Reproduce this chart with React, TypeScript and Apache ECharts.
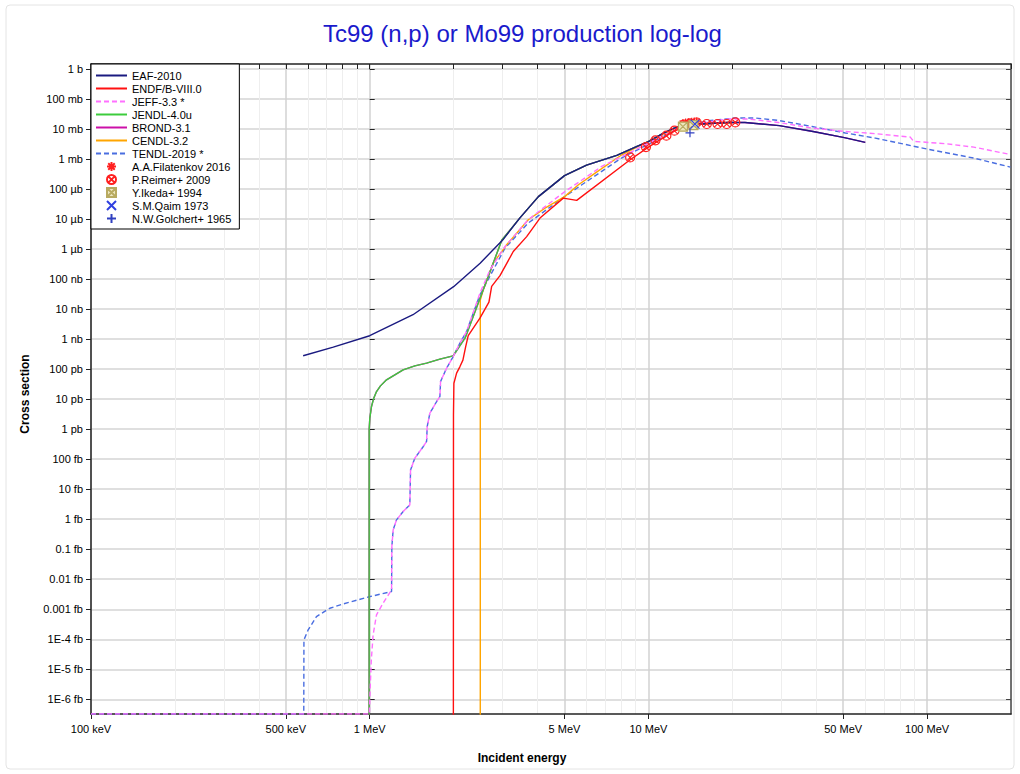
import React, { useEffect, useRef } from 'react';
import * as echarts from 'echarts';

const chartTitle = 'Tc99 (n,p) or Mo99 production log-log';
const xName = 'Incident energy';
const yName = 'Cross section';

// axis ranges: energy in MeV, cross section exponent (log10 of barns)
const xMinMeV = 0.1;
const xMaxMeV = 200;
const yMinExp = -21.49;
const yMaxExp = 0.167;

const xTickMeV = [0.1, 0.5, 1, 5, 10, 50, 100];
const xTickLabels = ['100 keV', '500 keV', '1 MeV', '5 MeV', '10 MeV', '50 MeV', '100 MeV'];
const xMinorDecades = [0.1, 1, 10, 100];
const xMinorSteps = [1, 2, 3, 4, 5, 6, 7, 8, 9];

const yTickExps = [0, -1, -2, -3, -4, -5, -6, -7, -8, -9, -10, -11, -12, -13, -14, -15, -16, -17, -18, -19, -20, -21];
const yTickLabels = ['1 b', '100 mb', '10 mb', '1 mb', '100 µb', '10 µb', '1 µb', '100 nb', '10 nb', '1 nb', '100 pb', '10 pb', '1 pb', '100 fb', '10 fb', '1 fb', '0.1 fb', '0.01 fb', '0.001 fb', '1E-4 fb', '1E-5 fb', '1E-6 fb'];

// zero cross section (below threshold) and bottom-of-frame value
const FLOOR = 1e-30;
const BOTTOM = Math.pow(10, yMinExp);

// ---- evaluated data (E in MeV, cross section in barns) ----
const eafE = [0.577, 0.74, 1.0, 1.43, 2.0, 2.49, 3.0, 3.46, 4.03, 5.0, 6.0, 7.7, 9.1, 10, 11.2, 12.3, 13.2, 15.3, 19.4, 22.2, 29.5, 39, 50.5, 60];
const eafS = [2.8e-10, 5.4e-10, 1.3e-9, 6.5e-9, 5.6e-8, 3.4e-7, 2.0e-6, 1.1e-5, 5.6e-5, 2.8e-4, 6.3e-4, 1.32e-3, 2.63e-3, 3.8e-3, 6.9e-3, 1.05e-2, 1.29e-2, 1.48e-2, 1.66e-2, 1.66e-2, 1.3e-2, 8.3e-3, 5.2e-3, 3.6e-3];

const endfE = [1.995, 1.998, 2.005, 2.05, 2.108, 2.16, 2.21, 2.257, 2.486, 2.678, 2.739, 2.934, 3.274, 3.658, 4.083, 4.95, 5.53, 8.6, 10.0, 12.3, 13.7, 15.3, 20.0];
const endfS = [FLOOR, 3e-12, 3.4e-11, 7.4e-11, 1.22e-10, 2.0e-10, 5.6e-10, 1.3e-9, 5.0e-9, 1.7e-8, 5.7e-8, 1.3e-7, 8.3e-7, 2.6e-6, 1.08e-5, 5.0e-5, 4.2e-5, 9.5e-4, 2.5e-3, 8.3e-3, 1.22e-2, 1.47e-2, 1.7e-2];

const jeffE = [0.1, 0.9975, 1.0033, 1.0133, 1.0285, 1.0578, 1.117, 1.198, 1.2007, 1.2137, 1.248, 1.318, 1.393, 1.4014, 1.452, 1.555, 1.6, 1.608, 1.644, 1.738, 1.786, 1.796, 1.888, 1.993, 2.107, 2.227, 2.486, 2.7, 3.058, 3.707, 4.256, 5.02, 5.77, 6.8, 8.03, 9.47, 11.17, 13.18, 16.9, 19.4, 22.9, 29.3, 38.6, 50.9, 65.2, 87, 89.5, 118, 147, 199];
const jeffS = [BOTTOM, BOTTOM, 2.0e-21, 2.0e-20, 1.4e-19, 6.5e-19, 1.6e-18, 4.4e-18, 1.2e-16, 4.4e-16, 9.5e-16, 1.8e-15, 3.0e-15, 4.4e-14, 1.08e-13, 2.6e-13, 3.9e-13, 1.22e-12, 3.4e-12, 8.3e-12, 1.22e-11, 3.9e-11, 1.08e-10, 2.6e-10, 7.4e-10, 1.8e-9, 3.4e-8, 2.0e-7, 1.22e-6, 9.5e-6, 2.6e-5, 8.3e-5, 2.0e-4, 5.7e-4, 1.22e-3, 2.6e-3, 5.7e-3, 1.22e-2, 1.79e-2, 2.15e-2, 2.15e-2, 1.66e-2, 1.08e-2, 8.3e-3, 7.0e-3, 5.4e-3, 3.9e-3, 3.2e-3, 2.5e-3, 1.42e-3];

const jendlE = [0.995, 0.9955, 1.001, 1.015, 1.034, 1.058, 1.093, 1.149, 1.214, 1.318, 1.452, 1.6, 1.786, 1.993, 2.2, 2.98, 3.46, 4.03, 5.0, 6.0, 7.7, 9.1, 10, 11.2, 12.3, 13.2, 15.3, 19.4, 20];
const jendlS = [FLOOR, 9.5e-13, 2.33e-12, 5.7e-12, 1.08e-11, 1.79e-11, 2.77e-11, 4.4e-11, 6.0e-11, 9.5e-11, 1.29e-10, 1.58e-10, 2.15e-10, 2.77e-10, 1.1e-9, 2.0e-6, 1.1e-5, 5.6e-5, 2.8e-4, 6.3e-4, 1.32e-3, 2.63e-3, 3.8e-3, 6.9e-3, 1.05e-2, 1.29e-2, 1.48e-2, 1.66e-2, 1.66e-2];

const brondE = [0.995, 0.9955, 1.001, 1.015, 1.034, 1.058, 1.093, 1.149, 1.214, 1.318, 1.452, 1.6, 1.786, 1.993, 2.2, 2.98, 3.46, 4.03, 5.0, 6.0, 7.7, 9.1, 10, 11.2, 12.3, 13.2, 15.3, 19.4, 22.2, 29.5, 39, 50.5, 60];
const brondS = [FLOOR, 9.5e-13, 2.33e-12, 5.7e-12, 1.08e-11, 1.79e-11, 2.77e-11, 4.4e-11, 6.0e-11, 9.5e-11, 1.29e-10, 1.58e-10, 2.15e-10, 2.77e-10, 1.1e-9, 2.0e-6, 1.1e-5, 5.6e-5, 2.8e-4, 6.3e-4, 1.32e-3, 2.63e-3, 3.8e-3, 6.9e-3, 1.05e-2, 1.29e-2, 1.48e-2, 1.66e-2, 1.66e-2, 1.3e-2, 8.3e-3, 5.2e-3, 3.6e-3];

const cendlE = [2.493, 2.4935, 2.555, 2.775, 3.1, 3.707, 4.256, 5.02, 5.61, 6.44, 8.03, 9.47, 11.17, 13.18, 16.7, 20];
const cendlS = [FLOOR, 2.0e-8, 4.4e-8, 3.4e-7, 1.39e-6, 9.5e-6, 2.33e-5, 5.7e-5, 1.39e-4, 3.4e-4, 1.39e-3, 3.0e-3, 6.5e-3, 1.22e-2, 1.62e-2, 1.58e-2];

const tendlE = [0.1, 0.58, 0.5808, 0.6006, 0.644, 0.719, 0.8026, 0.995, 1.198, 1.2007, 1.2137, 1.248, 1.318, 1.393, 1.4014, 1.452, 1.555, 1.6, 1.608, 1.644, 1.738, 1.786, 1.796, 1.888, 1.993, 2.107, 2.227, 2.486, 3.058, 3.707, 5.02, 5.77, 6.8, 8.03, 9.47, 11.17, 13.18, 16.4, 20.5, 24.2, 29.3, 38.6, 50.9, 65.2, 100, 147, 199];
const tendlS = [BOTTOM, BOTTOM, 9.5e-20, 2.0e-19, 5.7e-19, 1.08e-18, 1.5e-18, 2.6e-18, 3.9e-18, 1.2e-16, 4.4e-16, 9.5e-16, 1.8e-15, 3.0e-15, 4.4e-14, 1.08e-13, 2.6e-13, 3.9e-13, 1.22e-12, 3.4e-12, 8.3e-12, 1.22e-11, 3.9e-11, 1.08e-10, 2.6e-10, 7.4e-10, 1.8e-9, 3.0e-8, 1.08e-6, 7.4e-6, 5.7e-5, 1.39e-4, 3.9e-4, 1.1e-3, 2.4e-3, 5.3e-3, 1.19e-2, 1.89e-2, 2.33e-2, 2.33e-2, 1.94e-2, 1.22e-2, 7.4e-3, 5.0e-3, 2.15e-3, 1.08e-3, 5.4e-4];

// ---- experimental data (E in MeV, cross section in barns) ----
const filatenkovE = [13.3, 13.6, 13.9, 14.3, 14.6, 14.9];
const filatenkovS = [0.0150, 0.0158, 0.0162, 0.0168, 0.0170, 0.0172];
const reimerE = [8.6, 9.8, 10.6, 11.6, 12.4, 13.4, 14.1, 14.9, 16.2, 17.7, 19.1, 20.5];
const reimerS = [1.13e-3, 2.5e-3, 4.2e-3, 6.0e-3, 8.8e-3, 1.4e-2, 1.55e-2, 1.65e-2, 1.47e-2, 1.47e-2, 1.47e-2, 1.66e-2];
const ikedaE = [13.3, 14.5];
const ikedaS = [0.012, 0.0136];
const qaimE = [14.7];
const qaimS = [0.0145];
const golchertE = [14.1];
const golchertS = [0.0075];

const fontFamily = '"Liberation Sans", Arial, Helvetica, sans-serif';
const lg = (v: number) => Math.log10(v);
const pairs = (es: number[], ss: number[]) => es.map((e, i) => [lg(e), lg(ss[i])]);

const lineSeriesDefs = [
  { name: 'EAF-2010', e: eafE, s: eafS, color: '#1a1a80', dash: 'solid' },
  { name: 'ENDF/B-VIII.0', e: endfE, s: endfS, color: '#ff1010', dash: 'solid' },
  { name: 'JEFF-3.3 *', e: jeffE, s: jeffS, color: '#ff70ff', dash: 'dashed' },
  { name: 'JENDL-4.0u', e: jendlE, s: jendlS, color: '#3ccc3c', dash: 'solid' },
  { name: 'BROND-3.1', e: brondE, s: brondS, color: '#cc10a8', dash: 'solid' },
  { name: 'CENDL-3.2', e: cendlE, s: cendlS, color: '#ffa500', dash: 'solid' },
  { name: 'TENDL-2019 *', e: tendlE, s: tendlS, color: '#4a6ee0', dash: 'dashed' },
];

const starPath = 'path://M0,-5L0,5M-5,0L5,0M-3.6,-3.6L3.6,3.6M-3.6,3.6L3.6,-3.6';
const circleXPath = 'path://M5,0A5,5 0 1 1 -5,0A5,5 0 1 1 5,0ZM-3.5,-3.5L3.5,3.5M-3.5,3.5L3.5,-3.5';
const boxXPath = 'path://M-5,-5L5,-5L5,5L-5,5ZM-5,-5L5,5M-5,5L5,-5';
const crossPath = 'path://M-5,-5L5,5M-5,5L5,-5';
const plusPath = 'path://M0,-5L0,5M-5,0L5,0';

const scatterDefs = [
  { name: 'A.A.Filatenkov 2016', e: filatenkovE, s: filatenkovS, symbol: starPath, fill: 'rgba(0,0,0,0)', stroke: '#ff2020' },
  { name: 'P.Reimer+ 2009', e: reimerE, s: reimerS, symbol: circleXPath, fill: 'rgba(0,0,0,0)', stroke: '#ff2020' },
  { name: 'Y.Ikeda+ 1994', e: ikedaE, s: ikedaS, symbol: boxXPath, fill: '#ece6bc', stroke: '#b8aa60' },
  { name: 'S.M.Qaim 1973', e: qaimE, s: qaimS, symbol: crossPath, fill: 'rgba(0,0,0,0)', stroke: '#3040e0' },
  { name: 'N.W.Golchert+ 1965', e: golchertE, s: golchertS, symbol: plusPath, fill: 'rgba(0,0,0,0)', stroke: '#3040c0' },
];

function buildOption() {
  const xMajor = xTickMeV.map(lg);
  const xAll: number[] = [];
  xMinorDecades.forEach((d) => xMinorSteps.forEach((m) => {
    const v = m * d;
    if (v <= xMaxMeV + 1e-9) xAll.push(lg(v));
  }));
  const xMinor = xAll.filter((v) => !xMajor.some((t) => Math.abs(t - v) < 1e-6));
  const xFmt = (v: number) => {
    const i = xMajor.findIndex((t) => Math.abs(t - v) < 1e-6);
    return i >= 0 ? xTickLabels[i] : '';
  };
  const yFmt = (v: number) => {
    const i = yTickExps.findIndex((t) => Math.abs(t - v) < 1e-6);
    return i >= 0 ? yTickLabels[i] : '';
  };
  const xMin = lg(xMinMeV);
  const xMax = lg(xMaxMeV);
  const axisColor = '#222';

  const lineSeries = lineSeriesDefs.map((d) => ({
    name: d.name,
    type: 'line',
    data: pairs(d.e, d.s),
    symbol: 'none',
    showSymbol: false,
    clip: true,
    silent: true,
    xAxisIndex: 0,
    yAxisIndex: 0,
    lineStyle: { color: d.color, width: 1.4, type: d.dash === 'dashed' ? [5, 3] : 'solid' },
    itemStyle: { color: d.color },
    z: 3,
  }));
  // earlier legend entries are drawn on top
  const drawnLines = lineSeries.slice().reverse();

  const scatterSeries = scatterDefs.map((d) => ({
    name: d.name,
    type: 'scatter',
    data: pairs(d.e, d.s),
    symbol: d.symbol,
    symbolSize: 9,
    silent: true,
    xAxisIndex: 0,
    yAxisIndex: 0,
    itemStyle: { color: d.fill, borderColor: d.stroke, borderWidth: 1.2, opacity: 1 },
    z: 4,
  }));

  const legendData = [
    ...lineSeriesDefs.map((d) => ({ name: d.name, itemStyle: { opacity: 0 } })),
    ...scatterDefs.map((d) => ({ name: d.name })),
  ];

  return {
    animation: false,
    backgroundColor: '#fff',
    title: {
      text: chartTitle,
      left: 318,
      top: 16,
      textStyle: { color: '#1a1acc', fontSize: 24, fontWeight: 'normal', fontFamily },
    },
    grid: { left: 91, right: 9, top: 64, bottom: 60, containLabel: false, outerBoundsMode: 'none' },
    legend: {
      orient: 'vertical',
      left: 91,
      top: 64,
      data: legendData,
      itemWidth: 31,
      itemHeight: 9,
      itemGap: 2,
      padding: [6, 8, 5, 4],
      backgroundColor: '#fff',
      borderColor: '#000',
      borderWidth: 1,
      borderRadius: 0,
      selectedMode: false,
      textStyle: { fontSize: 11, color: '#000', fontFamily, lineHeight: 11 },
      z: 10,
    },
    graphic: [
      { type: 'rect', shape: { x: 6, y: 5, width: 1008, height: 764, r: 4 }, style: { fill: 'none', stroke: '#e4e4e4', lineWidth: 1 }, silent: true, z: -10 },
      { type: 'text', x: 522, y: 758, style: { text: xName, align: 'center', verticalAlign: 'middle', fill: '#000', font: `bold 12px ${fontFamily}` }, silent: true },
      { type: 'text', x: 25, y: 394, rotation: Math.PI / 2, style: { text: yName, align: 'center', verticalAlign: 'middle', fill: '#000', font: `bold 12px ${fontFamily}` }, silent: true },
    ],
    xAxis: [
      {
        type: 'value', position: 'bottom', min: xMin, max: xMax,
        axisLine: { show: true, onZero: false, lineStyle: { color: axisColor, width: 1.5 } },
        axisTick: { show: true, customValues: xMajor, length: 5, inside: false, lineStyle: { color: axisColor } },
        axisLabel: { show: true, customValues: xMajor, formatter: xFmt, margin: 9, fontSize: 11, color: '#000', fontFamily, hideOverlap: false },
        splitLine: { show: true, lineStyle: { color: '#d2d2d2', width: 1.5 } },
      },
      {
        type: 'value', position: 'bottom', min: xMin, max: xMax,
        axisLine: { show: false },
        axisTick: { show: true, customValues: xMinor, length: 4, inside: true, lineStyle: { color: axisColor } },
        axisLabel: { show: false },
        splitLine: { show: true, lineStyle: { color: '#eeeeee', width: 1 } },
      },
      {
        type: 'value', position: 'top', min: xMin, max: xMax,
        axisLine: { show: true, onZero: false, lineStyle: { color: axisColor, width: 1.5 } },
        axisTick: { show: true, customValues: xAll, length: 5, inside: true, lineStyle: { color: axisColor } },
        axisLabel: { show: false },
        splitLine: { show: false },
      },
    ],
    yAxis: [
      {
        type: 'value', position: 'left', min: yMinExp, max: yMaxExp,
        axisLine: { show: true, onZero: false, lineStyle: { color: axisColor, width: 1.5 } },
        axisTick: { show: true, customValues: yTickExps, length: 5, inside: false, lineStyle: { color: axisColor } },
        axisLabel: { show: true, customValues: yTickExps, formatter: yFmt, margin: 8, fontSize: 11, color: '#000', fontFamily, hideOverlap: false },
        splitLine: { show: true, lineStyle: { color: '#d4d4d4', width: 1.5 } },
      },
      {
        type: 'value', position: 'left', min: yMinExp, max: yMaxExp,
        axisLine: { show: false },
        axisTick: { show: true, customValues: yTickExps, length: 5, inside: true, lineStyle: { color: axisColor } },
        axisLabel: { show: false },
        splitLine: { show: false },
      },
      {
        type: 'value', position: 'right', min: yMinExp, max: yMaxExp,
        axisLine: { show: true, onZero: false, lineStyle: { color: '#444', width: 1.5 } },
        axisTick: { show: true, customValues: yTickExps, length: 5, inside: true, lineStyle: { color: '#444' } },
        axisLabel: { show: false },
        splitLine: { show: false },
      },
    ],
    series: [...drawnLines, ...scatterSeries],
  };
}

export default function App() {
  const ref = useRef<HTMLDivElement>(null);
  useEffect(() => {
    if (!ref.current) return;
    const chart = echarts.init(ref.current, null, { renderer: 'svg' });
    chart.setOption(buildOption() as any);
    return () => chart.dispose();
  }, []);
  return (
    <div
      ref={ref}
      style={{ position: 'fixed', left: 0, top: 0, width: 1020, height: 774, background: '#fff' }}
    />
  );
}
